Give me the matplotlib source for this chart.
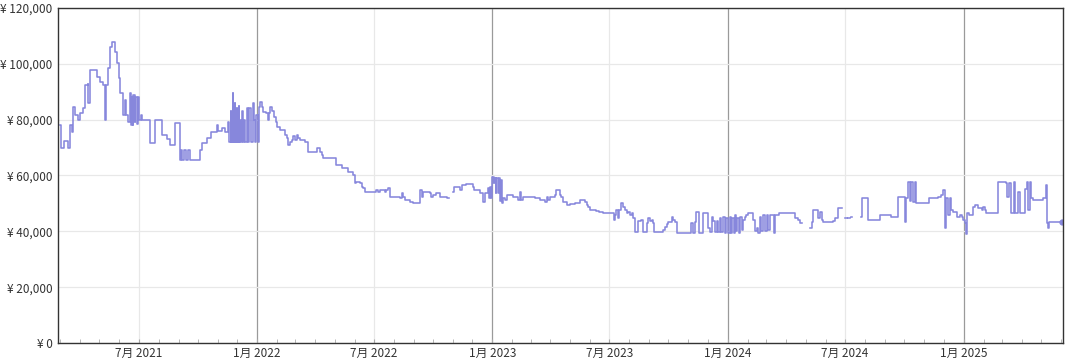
import matplotlib.pyplot as plt
import matplotlib.dates as mdates
import numpy as np
import pandas as pd

plt.rcParams['font.family'] = ['Noto Sans CJK JP', 'DejaVu Sans']

nan = np.nan

# price history per year (nan = no data)
dates_2021 = ["03-01", "03-02", "03-08", "03-14", "03-16", "03-19", "03-21", "03-24",
              "03-29", "04-01", "04-05", "04-09", "04-13", "04-14", "04-16", "04-17",
              "04-28", "05-02", "05-07", "05-10", "05-12", "05-15", "05-18", "05-21",
              "05-25", "05-29", "06-01", "06-02", "06-07", "06-10", "06-12", "06-14",
              "06-17", "06-19", "06-20", "06-22", "06-23", "06-25", "06-26", "06-28",
              "06-30", "07-02", "07-04", "07-07", "07-18", "07-26", "08-06", "08-14",
              "08-18", "08-26", "09-03", "09-05", "09-07", "09-09", "09-12", "09-15",
              "09-18", "10-04", "10-07", "10-15", "10-22", "10-30", "11-01", "11-08",
              "11-12", "11-16", "11-19", "11-21", "11-22", "11-24", "11-25", "11-27",
              "11-28", "11-30", "12-01", "12-03", "12-04", "12-06", "12-07", "12-09",
              "12-10", "12-12", "12-13", "12-16", "12-18", "12-20", "12-22", "12-25",
              "12-27", "12-28", "12-30"]
prices_2021 = [78000, 70000, 72300, 70000, 78000, 75700, 84500, 81700,
               79900, 82300, 84000, 92400, 92700, 86000, 92700, 97800,
               95400, 93600, 92400, 80000, 92400, 98400, 106100, 107700,
               104400, 100200, 95000, 89400, 81700, 87100, 81700, 79300,
               89400, 78000, 88000, 78000, 89000, 79000, 88000, 78500,
               88000, 80000, 81500, 80000, 71600, 80000, 74500, 73000,
               70900, 78700, 65500, 69100, 65500, 69100, 65500, 69000,
               65500, 69100, 71500, 73300, 75700, 78100, 76000, 77000,
               75500, 79000, 72100, 83000, 72100, 89400, 72100, 86000,
               72100, 84000, 72100, 85000, 72100, 80000, 72100, 83000,
               72100, 80000, 72000, 84000, 72100, 84000, 72100, 86000,
               80000, 72100, 81700]

dates_2022 = ["01-02", "01-03", "01-05", "01-08", "01-10", "01-14", "01-18", "01-19",
              "01-21", "01-24", "01-27", "01-30", "02-01", "02-05", "02-13", "02-16",
              "02-18", "02-21", "02-24", "02-26", "02-28", "03-03", "03-05", "03-08",
              "03-16", "03-21", "04-03", "04-08", "04-11", "04-13", "05-03", "05-12",
              "05-22", "05-30", "06-01", "06-04", "06-09", "06-12", "06-14", "06-17",
              "07-05", "07-07", "07-10", "07-18", "07-20", "07-23", "07-26", "08-10",
              "08-13", "08-15", "08-18", "08-26", "08-31", "09-10", "09-13", "09-15",
              "09-26", "09-28", "10-01", "10-06", "10-11", "10-22", "10-25", "10-31",
              "11-03", "11-11", "11-15", "11-21", "12-02", "12-04", "12-12", "12-17",
              "12-21", "12-25", "12-26", "12-28", "12-30"]
prices_2022 = [72100, 84600, 86400, 84600, 82900, 82300, 79900, 82500,
               84600, 83000, 81000, 79300, 77500, 76300, 74500, 73300,
               70900, 72000, 72700, 74000, 72700, 74500, 73300, 72700,
               72100, 68500, 69700, 68500, 67300, 66100, 63800, 62600,
               61400, 60200, 57200, 57800, 57200, 56000, 55400, 54200,
               54800, 54200, 54800, 54200, 54800, 55400, 52400, 51800,
               53600, 52400, 51200, 50600, 50000, 54800, 52400, 54200,
               53600, 52400, 53000, 53600, 52400, 51800, nan, 54200,
               56000, 54800, 56600, 57000, 56000, 54800, 53600, 50600,
               53600, 55400, 52000, 56000, 51800]

dates_2023 = ["01-01", "01-03", "01-04", "01-06", "01-07", "01-09", "01-11", "01-12",
              "01-15", "01-16", "01-17", "01-20", "01-23", "02-02", "02-10", "02-12",
              "02-15", "02-17", "03-08", "03-15", "03-23", "03-26", "03-28", "03-31",
              "04-08", "04-10", "04-15", "04-18", "04-20", "04-26", "05-01", "05-09",
              "05-17", "05-24", "05-27", "05-29", "06-01", "06-11", "06-16", "06-22",
              "07-02", "07-08", "07-10", "07-12", "07-15", "07-17", "07-20", "07-23",
              "07-25", "07-28", "07-30", "08-02", "08-05", "08-07", "08-10", "08-15",
              "08-20", "08-23", "08-28", "08-30", "09-02", "09-05", "09-07", "09-09",
              "09-23", "09-25", "09-28", "09-30", "10-06", "10-08", "10-11", "10-14",
              "11-05", "11-08", "11-11", "11-13", "11-18", "11-23", "12-02", "12-04",
              "12-07", "12-09", "12-12", "12-15", "12-17", "12-20", "12-22", "12-25",
              "12-28", "12-30"]
prices_2023 = [59600, 57200, 59000, 53600, 59000, 53600, 59000, 51000,
               58500, 50000, 51800, 51200, 53000, 52400, 51200, 54200,
               51200, 52400, 51800, 51200, 50600, 52400, 51200, 52400,
               53000, 54800, 53000, 52400, 50600, 49400, 49700, 50000,
               51200, 50600, 49400, 48800, 47600, 47300, 47000, 46700,
               46400, 44000, 45800, 47600, 44600, 47600, 50100, 48800,
               47600, 46400, 47000, 45800, 46400, 44700, 39900, 43600,
               44000, 39900, 43000, 44600, 43600, 44000, 43000, 39900,
               40500, 41700, 42500, 43500, 45200, 44000, 43500, 39300,
               42900, 39300, 43500, 47000, 39300, 46400, 41200, 39900,
               45200, 43800, 39900, 43800, 39900, 44600, 39900, 45200,
               39300, 44600]

dates_2024 = ["01-02", "01-04", "01-06", "01-08", "01-10", "01-12", "01-14", "01-16",
              "01-18", "01-20", "01-23", "01-25", "01-28", "01-30", "02-02", "02-09",
              "02-12", "02-15", "02-17", "02-20", "02-22", "02-25", "02-28", "03-02",
              "03-04", "03-07", "03-12", "03-14", "03-20", "04-14", "04-19", "04-22",
              "04-25", "05-08", "05-10", "05-13", "05-20", "05-23", "05-26", "05-28",
              "06-12", "06-15", "06-20", "06-26", "07-01", "07-04", "07-06", "07-08",
              "07-11", "07-12", "07-26", "07-27", "08-06", "08-24", "09-11", "09-21",
              "10-02", "10-04", "10-07", "10-09", "10-12", "10-14", "10-17", "10-19",
              "11-09", "11-22", "11-27", "11-30", "12-03", "12-05", "12-08", "12-11",
              "12-13", "12-16", "12-21", "12-26", "12-29", "12-31"]
prices_2024 = [39300, 45000, 39500, 44600, 39300, 45800, 40000, 44600,
               39300, 45200, 40500, 44000, 45200, 45800, 46400, 44000,
               40000, 41200, 39300, 45200, 40000, 45800, 40000, 45800,
               40500, 45800, 39300, 45800, 46400, 44600, 44000, 42900,
               nan, 41100, 43500, 47600, 44700, 47000, 44000, 43500,
               43800, 44600, 48200, nan, 44700, nan, 44700, nan,
               45000, nan, 45200, 51800, 44000, 45800, 45200, 52400,
               43500, 52000, 57800, 51000, 57800, 50500, 57800, 50000,
               51800, 52400, 53000, 54800, 41100, 51800, 45800, 51800,
               47600, 47000, 45200, 45800, 45000, 44000]

dates_2025 = ["01-03", "01-05", "01-06", "01-10", "01-16", "01-18", "01-23", "01-29",
              "01-31", "02-03", "02-05", "02-23", "03-08", "03-10", "03-12", "03-15",
              "03-20", "03-22", "03-27", "03-30", "04-06", "04-09", "04-11", "04-14",
              "04-16", "04-18", "05-04", "05-09", "05-11", "05-12", "05-13", "06-02"]
prices_2025 = [42900, 39000, 46400, 45800, 48800, 49400, 48200, 47600,
               48800, 47600, 46400, 57800, 57300, 52400, 57300, 46400,
               57500, 46400, 54200, 46400, 55000, 57800, 47700, 57500,
               51800, 51200, 51800, 56600, 42900, 41100, 43300, 43300]

y_ticks = [0, 20000, 40000, 60000, 80000, 100000, 120000]
y_labels = ['¥ 0', '¥ 20,000', '¥ 40,000', '¥ 60,000', '¥ 80,000', '¥ 100,000', '¥ 120,000']
x_ticks = ['2021-07-01', '2022-01-01', '2022-07-01', '2023-01-01', '2023-07-01',
           '2024-01-01', '2024-07-01', '2025-01-01']
x_labels = ['7月 2021', '1月 2022', '7月 2022', '1月 2023', '7月 2023',
            '1月 2024', '7月 2024', '1月 2025']

years = {2021: (dates_2021, prices_2021), 2022: (dates_2022, prices_2022),
         2023: (dates_2023, prices_2023), 2024: (dates_2024, prices_2024),
         2025: (dates_2025, prices_2025)}
all_dates, all_prices = [], []
for yr, (ds, ps) in years.items():
    assert len(ds) == len(ps), yr
    all_dates += [f'{yr}-{d}' for d in ds]
    all_prices += ps

x = pd.to_datetime(all_dates)
xt = pd.to_datetime(x_ticks)
line_color = '#8787dc'

fig = plt.figure(figsize=(10.69, 3.61), dpi=100)
ax = fig.add_axes([0.0543, 0.0499, 0.94, 0.928])

ax.plot(x, all_prices, drawstyle='steps-post', color=line_color, lw=1.15)
ax.plot(x[-1], all_prices[-1], 'o', color=line_color, ms=3.5)

ax.set_ylim(0, 120000)
ax.set_xlim(pd.Timestamp('2021-02-26'), pd.Timestamp('2025-06-04'))
ax.set_yticks(y_ticks)
ax.set_yticklabels(y_labels)
ax.set_xticks(xt)
ax.set_xticklabels(x_labels)
ax.xaxis.set_minor_locator(mdates.MonthLocator())

# grid: light lines, darker ones at year boundaries
ax.grid(axis='y', color='#e8e8e8', lw=0.9)
for t, lab in zip(xt, x_labels):
    if lab.startswith('1月'):
        ax.axvline(t, color='#9a9a9a', lw=0.9, zorder=0)
    else:
        ax.axvline(t, color='#e8e8e8', lw=0.9, zorder=0)
ax.set_axisbelow(True)

for s in ax.spines.values():
    s.set_color('#333333')
    s.set_linewidth(1.0)

ax.tick_params(axis='y', length=0, pad=4, labelsize=8.5, labelcolor='#333333')
ax.tick_params(axis='x', which='both', direction='in', length=3, color='#aaaaaa',
               labelsize=8.5, labelcolor='#333333', pad=3)

plt.savefig('out.png', dpi=100)
